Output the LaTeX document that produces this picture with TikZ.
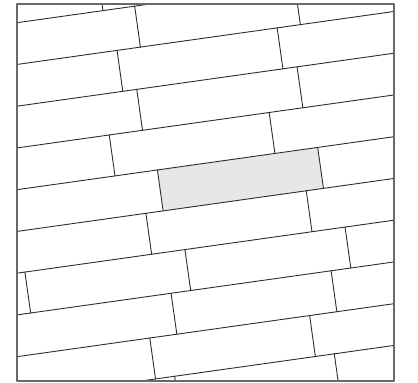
\documentclass[tikz,border=0pt]{standalone}
\usepackage{xcolor}
\definecolor{framegray}{RGB}{105,105,105}
\definecolor{seamgray}{RGB}{45,45,45}
\definecolor{tilegray}{RGB}{230,231,232}

\begin{document}
\begin{tikzpicture}[x=1pt,y=1pt, line cap=round, line join=round]

\tikzset{
  seam/.style={draw=seamgray, line width=0.9pt},
  border/.style={draw=framegray, line width=1.4pt},
  marked/.style={fill=tilegray}
}

\useasboundingbox (0,0) rectangle (418,383);

\begin{scope}
\clip (17,2) rectangle (394,379);
\begin{scope}[rotate=8]
\fill[marked] (185.5,147.5) rectangle (347.4,188.84);
\foreach \k in {-1,...,8}
  \draw[seam] (-100,{23.7+41.34*\k}) -- (600,{23.7+41.34*\k});
\foreach \u/\r in {153.8/8, 185.8/7, 347.3/7, 162.2/6, 323.9/6,
                   176.3/5, 338.2/5, 142.7/4, 304.2/4, 185.5/3, 347.4/3,
                   168.1/2, 330.0/2, 40.1/1, 201.7/1, 363.4/1,
                   181.9/0, 343.5/0, 154.6/-1, 316.0/-1, 173.9/-2, 335.1/-2}
  \draw[seam] (\u,{23.7+41.34*\r}) -- (\u,{23.7+41.34*(\r+1)});
\end{scope}
\end{scope}

\draw[border] (17,2) rectangle (394,379);

\end{tikzpicture}
\end{document}
